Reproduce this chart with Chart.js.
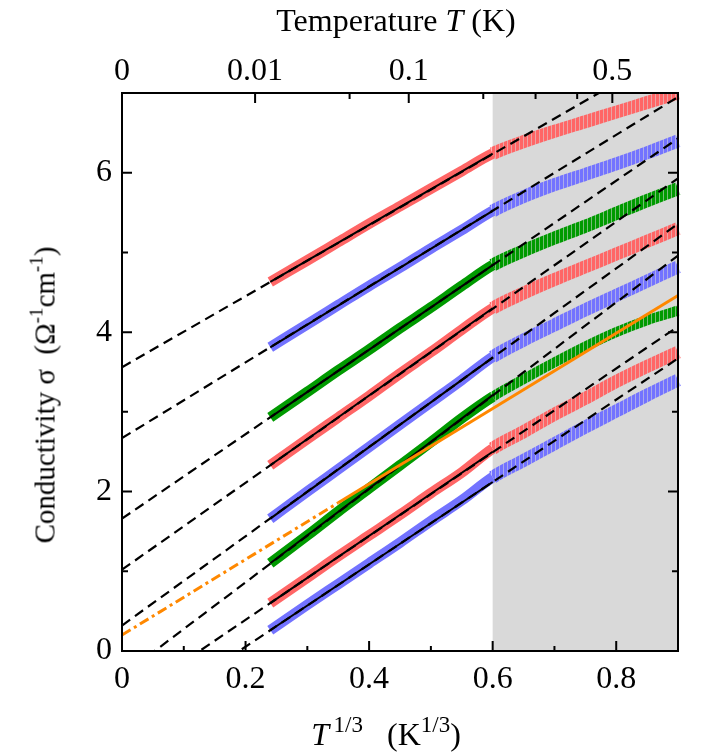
<!DOCTYPE html>
<html>
<head>
<meta charset="utf-8">
<script src="https://cdn.jsdelivr.net/npm/chart.js@4.4.1/dist/chart.umd.min.js"></script>
<style>
  html, body { margin: 0; padding: 0; background: #fff; }
  #wrap { position: relative; width: 706px; height: 754px; }
  #c { position: absolute; left: 0; top: 0; }
  .lbl {
    position: absolute; white-space: nowrap; line-height: 1; color: #000;
    font-family: "Liberation Serif", "Times New Roman", serif; font-size: 32px;
    transform: translate(-50%, -50%);
  }
  .lbl sup { font-size: 23px; vertical-align: 0; position: relative; top: -13px; }
  #yTitle { font-size: 29px; transform: translate(-50%, -50%) rotate(-90deg); }
  #yTitle sup { font-size: 19px; top: -12px; }
</style>
</head>
<body>
<div id="wrap">
  <canvas id="c" width="706" height="754"></canvas>
  <div class="lbl" id="topTitle" style="left:396px; top:20px;">Temperature <i>T</i> (K)</div>
  <div class="lbl" id="xTitle" style="left:386px; top:734px;"><i>T</i><sup>&thinsp;1/3</sup>&nbsp;&nbsp; (K<sup>1/3</sup>)</div>
  <div class="lbl" id="yTitle" style="left:45px; top:395px;">Conductivity σ &nbsp;(Ω<sup>-1</sup>cm<sup>-1</sup>)</div>
</div>
<script>
var bandX = [0.24, 0.30, 0.35, 0.40, 0.45, 0.50, 0.55, 0.60, 0.65, 0.70, 0.75, 0.80, 0.85, 0.90];

// conductivity bands, top to bottom
var red1   = [4.63, 4.90, 5.13, 5.36, 5.58, 5.80, 6.02, 6.24, 6.39, 6.52, 6.64, 6.76, 6.88, 7.00];
var blue2  = [3.81, 4.10, 4.34, 4.58, 4.81, 5.05, 5.28, 5.52, 5.70, 5.85, 5.98, 6.11, 6.25, 6.40];
var green3 = [2.93, 3.25, 3.52, 3.78, 4.05, 4.31, 4.58, 4.84, 5.02, 5.18, 5.33, 5.49, 5.65, 5.80];
var red4   = [2.33, 2.66, 2.93, 3.20, 3.48, 3.75, 4.03, 4.30, 4.49, 4.66, 4.82, 4.98, 5.14, 5.30];
var blue5  = [1.66, 2.00, 2.28, 2.56, 2.84, 3.12, 3.40, 3.69, 3.90, 4.09, 4.28, 4.46, 4.64, 4.82];
var green6 = [1.10, 1.45, 1.75, 2.04, 2.33, 2.62, 2.92, 3.19, 3.41, 3.62, 3.82, 4.00, 4.15, 4.27];
var red7   = [0.60, 0.92, 1.19, 1.45, 1.71, 1.98, 2.24, 2.54, 2.75, 2.97, 3.17, 3.38, 3.57, 3.75];
var blue8  = [0.26, 0.58, 0.84, 1.10, 1.36, 1.63, 1.89, 2.18, 2.39, 2.60, 2.81, 3.01, 3.21, 3.40];

// linear fits: solid over the fitted range, dashed over the whole axis
var fitRange = [0.24, 0.60];
var fitSolidStart = [4.63, 3.81, 2.93, 2.33, 1.66, 1.10, 0.60, 0.26];
var fitSolidEnd   = [6.24, 5.52, 4.84, 4.30, 3.68, 3.21, 2.50, 2.12];
var fitSpan = [0, 0.90];
var fitAtZero = [3.56, 2.67, 1.66, 1.02, 0.32, -0.31, -0.66, -0.98];
var fitAtEnd  = [7.57, 6.95, 6.43, 5.93, 5.36, 4.96, 4.07, 3.67];

// orange fit on the lower green band (dash-dot, then solid)
var orangeX = [0, 0.35, 0.90];
var orangeY = [0.20, 1.86, 4.46];

// axes
var shadeFrom = 0.6, shadeTo = 0.9;
var topTemps  = [0, 0.01, 0.05, 0.1, 0.2, 0.3, 0.4, 0.5];
var topLabels = ["0", "0.01", "", "0.1", "", "", "", "0.5"];

var RED = "#ff6666", BLUE = "#7373ff", GREEN = "#009a00";
var bands = [red1, blue2, green3, red4, blue5, green6, red7, blue8];
var bandColors = [RED, BLUE, GREEN, RED, BLUE, GREEN, RED, BLUE];
var serif = "'Liberation Serif', 'Times New Roman', serif";
var tickFont = { family: serif, size: 32 };

function hatch(color) {
  var p = document.createElement("canvas");
  p.width = 4; p.height = 4;
  var g = p.getContext("2d");
  g.fillStyle = color;
  g.fillRect(0, 0, 3, 4);
  g.globalAlpha = 0.45;
  g.fillRect(3, 0, 1, 4);
  return g.createPattern(p, "repeat");
}

function pts(xs, ys) {
  return xs.map(function(x, i) { return { x: x, y: ys[i] }; });
}

var datasets = [];

// orange first so it sits on top
datasets.push({
  data: pts(orangeX, orangeY),
  borderColor: "#ff8800", borderWidth: 3, pointRadius: 0, order: 0, clip: 0,
  segment: { borderDash: function(ctx) { return ctx.p0DataIndex === 0 ? [10, 4, 3, 4] : undefined; } }
});

fitAtZero.forEach(function(v, i) {
  datasets.push({
    data: pts(fitRange, [fitSolidStart[i], fitSolidEnd[i]]),
    borderColor: "#000", borderWidth: 2, pointRadius: 0, order: 1, clip: 0
  });
  datasets.push({
    data: pts(fitSpan, [v, fitAtEnd[i]]),
    borderColor: "#000", borderWidth: 2.2, borderDash: [10, 6], pointRadius: 0, order: 2, clip: 0
  });
});

bands.forEach(function(vals, i) {
  var col = bandColors[i];
  var pat = hatch(col);
  datasets.push({
    data: pts(bandX, vals),
    borderColor: col, borderWidth: 10.5, borderCapStyle: "butt",
    cubicInterpolationMode: "monotone",
    pointRadius: 0, order: 3, clip: { left: 0, top: 0, bottom: 0, right: 6 },
    segment: {
      borderColor: function(ctx) { return ctx.p0.parsed.x >= shadeFrom - 1e-6 ? pat : col; },
      borderWidth: function(ctx) { return ctx.p0.parsed.x >= shadeFrom - 1e-6 ? (i === 5 ? 10 : 13) : 10.5; }
    }
  });
});

var boxPlugin = {
  id: "box",
  beforeDatasetsDraw: function(chart) {
    var a = chart.chartArea, x = chart.scales.x, ctx = chart.ctx;
    var x0 = x.getPixelForValue(shadeFrom), x1 = x.getPixelForValue(shadeTo);
    ctx.save();
    ctx.fillStyle = "#d9d9d9";
    ctx.fillRect(x0, a.top, x1 - x0, a.bottom - a.top);
    ctx.restore();
  },
  afterDatasetsDraw: function(chart) {
    var a = chart.chartArea, ctx = chart.ctx;
    var x = chart.scales.x, x2 = chart.scales.x2, y = chart.scales.y;
    ctx.save();
    ctx.strokeStyle = "#000";
    ctx.lineWidth = 2;
    ctx.beginPath();
    x.ticks.forEach(function(t) {
      var px = x.getPixelForValue(t.value);
      var len = Math.round(t.value * 10) % 2 === 0 ? 10 : 5;
      ctx.moveTo(px, a.bottom); ctx.lineTo(px, a.bottom - len);
    });
    x2.ticks.forEach(function(t, i) {
      var px = x2.getPixelForValue(t.value);
      var len = topLabels[i] ? 10 : 6;
      ctx.moveTo(px, a.top); ctx.lineTo(px, a.top + len);
    });
    y.ticks.forEach(function(t) {
      var py = y.getPixelForValue(t.value);
      var len = Math.round(t.value) % 2 === 0 ? 10 : 6;
      ctx.moveTo(a.left, py); ctx.lineTo(a.left + len, py);
      ctx.moveTo(a.right, py); ctx.lineTo(a.right - len, py);
    });
    ctx.stroke();
    ctx.strokeRect(a.left, a.top, a.right - a.left, a.bottom - a.top);
    ctx.restore();
  }
};

new Chart(document.getElementById("c"), {
  type: "line",
  data: { datasets: datasets },
  plugins: [boxPlugin],
  options: {
    responsive: false,
    animation: false,
    events: [],
    layout: { padding: 0 },
    plugins: { legend: { display: false }, tooltip: { enabled: false } },
    scales: {
      x: {
        type: "linear", position: "bottom", min: 0, max: 0.9,
        grid: { display: false, drawTicks: false }, border: { display: false },
        ticks: {
          stepSize: 0.1, autoSkip: false, maxRotation: 0, padding: 9, color: "#000",
          font: tickFont,
          callback: function(v) {
            var k = Math.round(v * 10);
            if (k % 2 !== 0) return "";
            return k === 0 ? "0" : (k / 10).toFixed(1);
          }
        },
        afterFit: function(s) { s.height = 103; }
      },
      x2: {
        type: "linear", position: "top", min: 0, max: 0.9,
        grid: { display: false, drawTicks: false }, border: { display: false },
        afterBuildTicks: function(s) {
          s.ticks = topTemps.map(function(t) { return { value: Math.cbrt(t) }; });
        },
        ticks: {
          autoSkip: false, maxRotation: 0, padding: 2, color: "#000",
          font: tickFont,
          callback: function(v, i) { return topLabels[i]; }
        },
        afterFit: function(s) { s.height = 93; }
      },
      y: {
        type: "linear", position: "left", min: 0, max: 7,
        grid: { display: false, drawTicks: false }, border: { display: false },
        ticks: {
          stepSize: 1, autoSkip: false, padding: 10, color: "#000",
          font: tickFont,
          callback: function(v) { return Math.round(v) % 2 === 0 ? String(Math.round(v)) : ""; }
        },
        afterFit: function(s) { s.width = 122; }
      },
      y2: {
        type: "linear", position: "right", min: 0, max: 7,
        grid: { display: false, drawTicks: false }, border: { display: false },
        ticks: { display: false },
        afterFit: function(s) { s.width = 28; }
      }
    }
  }
});
</script>
</body>
</html>
